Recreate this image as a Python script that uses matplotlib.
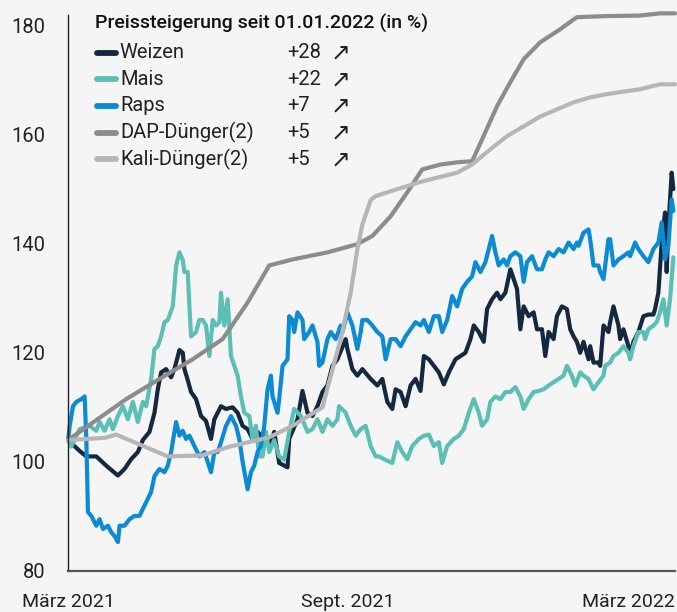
import matplotlib
matplotlib.use("Agg")
import matplotlib.pyplot as plt

plt.rcParams['font.family'] = ['Roboto', 'DejaVu Sans']

# Tage seit Anfang März 2021 und Indexwerte (Start = ca. 104)
weizen_tage = [0, 7, 11, 17, 23, 30, 34, 38, 42, 45, 49, 52, 54, 56, 59, 62, 64, 67, 69, 70,
               72, 74, 77, 80, 83, 86, 88, 92, 95, 99, 102, 105, 108, 111, 114, 118, 122, 124,
               127, 132, 133, 138, 141, 144, 147, 150, 153, 156, 159, 162, 167, 168, 171, 174,
               177, 182, 186, 189, 192, 195, 197, 200, 203, 206, 209, 212, 214, 217, 220, 223,
               226, 229, 233, 236, 239, 242, 244, 247, 250, 252, 255, 258, 260, 263, 266, 268,
               270, 272, 274, 277, 280, 282, 285, 287, 289, 292, 294, 297, 300, 302, 304, 306,
               308, 310, 313, 314, 316, 319, 320, 322, 325, 326, 328, 331, 332, 334, 337, 338,
               340, 343, 346, 349, 352, 353, 355, 357, 359, 360, 361, 363, 364]
weizen_werte = [104.0, 102.0, 101.0, 101.0, 99.3, 97.5, 98.7, 100.5, 101.8, 104.0, 105.5, 109.0,
                113.3, 116.4, 117.0, 115.5, 117.0, 120.5, 120.0, 117.0, 115.0, 112.8, 111.5,
                108.4, 107.5, 104.2, 107.8, 110.2, 109.7, 110.0, 109.0, 106.6, 106.0, 104.2,
                105.5, 104.0, 103.6, 105.5, 99.8, 99.0, 104.2, 107.8, 113.0, 109.0, 108.4, 110.2,
                112.8, 114.0, 117.6, 118.8, 122.5, 120.7, 117.0, 115.8, 117.0, 115.2, 114.0,
                115.2, 111.0, 109.7, 113.3, 112.8, 110.2, 114.0, 115.2, 113.0, 119.4, 118.8,
                117.6, 116.4, 114.2, 116.4, 118.8, 119.4, 120.0, 122.5, 125.0, 123.8, 122.0,
                128.0, 129.8, 131.0, 129.8, 131.0, 135.3, 133.5, 131.7, 124.3, 128.5, 126.7,
                127.4, 124.3, 124.3, 119.4, 123.8, 122.5, 126.7, 128.5, 128.0, 124.3, 123.0,
                122.0, 120.0, 122.0, 118.8, 121.2, 118.2, 118.2, 117.6, 125.0, 123.8, 125.6,
                128.5, 125.0, 122.5, 124.3, 121.2, 119.4, 122.0, 123.8, 126.7, 127.0, 127.0,
                128.0, 131.0, 140.2, 145.7, 134.8, 143.0, 153.0, 150.0]

mais_tage = [0, 2, 7, 13, 17, 19, 22, 25, 27, 30, 33, 36, 39, 42, 45, 47, 50, 52, 54, 56, 58,
             60, 63, 65, 67, 69, 70, 72, 73, 74, 77, 79, 81, 83, 85, 87, 89, 91, 92, 94, 96, 98,
             100, 102, 104, 106, 109, 111, 113, 115, 117, 119, 121, 124, 127, 130, 133, 136,
             140, 144, 147, 150, 153, 156, 159, 162, 163, 167, 170, 173, 176, 179, 182, 185,
             187, 190, 195, 198, 201, 204, 207, 211, 214, 217, 220, 223, 225, 228, 232, 235,
             238, 241, 244, 247, 249, 252, 254, 257, 260, 263, 266, 269, 272, 274, 277, 280,
             283, 286, 289, 292, 295, 298, 300, 303, 305, 308, 310, 313, 316, 319, 322, 323,
             326, 328, 331, 334, 337, 338, 340, 343, 346, 347, 349, 352, 354, 356, 358, 360,
             362, 364]
mais_werte = [104.0, 102.8, 106.0, 106.6, 105.7, 107.3, 105.7, 107.8, 106.0, 108.4, 110.2,
              107.8, 111.0, 107.3, 111.0, 110.2, 115.2, 120.7, 121.2, 123.0, 125.6, 126.0,
              128.5, 135.9, 138.4, 137.0, 134.8, 134.8, 128.5, 123.0, 123.8, 126.0, 126.0,
              125.0, 119.4, 126.0, 125.0, 125.6, 131.0, 125.0, 129.8, 119.4, 117.6, 115.8,
              112.0, 109.0, 108.4, 104.2, 106.6, 101.0, 101.0, 105.5, 101.8, 104.0, 101.0,
              100.4, 105.5, 109.7, 108.4, 105.5, 106.0, 107.8, 105.5, 107.8, 106.6, 107.8,
              110.2, 109.0, 106.6, 104.8, 106.0, 106.6, 102.9, 101.0, 101.0, 100.5, 99.8,
              103.6, 101.8, 100.5, 102.9, 104.2, 104.8, 105.0, 102.9, 103.6, 99.8, 102.9,
              104.2, 104.8, 106.0, 109.0, 111.5, 109.0, 106.6, 107.8, 111.0, 112.0, 111.5,
              112.8, 112.8, 113.7, 112.0, 109.7, 111.5, 112.8, 113.0, 113.3, 114.0, 114.6,
              115.2, 115.8, 117.6, 115.8, 114.0, 116.4, 115.8, 115.2, 113.3, 114.6, 115.8,
              117.6, 118.2, 119.4, 120.0, 121.2, 120.0, 118.8, 121.2, 123.8, 123.8, 122.5,
              124.3, 125.0, 125.6, 127.4, 129.8, 125.0, 129.8, 137.5]

raps_tage = [0, 1, 3, 5, 8, 10, 11, 12, 14, 17, 19, 21, 24, 26, 28, 30, 31, 34, 37, 40, 43,
             45, 47, 50, 52, 55, 58, 60, 62, 65, 67, 69, 71, 73, 76, 79, 82, 84, 86, 88, 90,
             92, 95, 98, 101, 103, 105, 108, 110, 112, 114, 116, 118, 120, 122, 123, 126, 127,
             129, 132, 133, 135, 136, 138, 141, 142, 145, 147, 150, 151, 153, 156, 158, 161,
             164, 165, 168, 171, 174, 176, 177, 180, 183, 186, 189, 191, 194, 197, 200, 203,
             206, 209, 212, 214, 217, 220, 223, 225, 228, 231, 234, 237, 240, 243, 245, 246,
             248, 251, 253, 255, 257, 259, 262, 264, 266, 269, 272, 274, 276, 279, 282, 285,
             287, 289, 292, 295, 298, 301, 304, 306, 307, 310, 313, 314, 316, 319, 320, 322,
             325, 326, 328, 331, 334, 337, 338, 341, 343, 346, 349, 352, 355, 357, 359, 361,
             363, 364]
raps_werte = [104.0, 106.6, 110.2, 111.0, 111.5, 112.0, 104.2, 90.8, 90.1, 88.3, 89.5, 87.7,
              88.3, 87.1, 86.4, 85.3, 88.3, 88.3, 89.5, 90.1, 90.1, 91.4, 92.6, 94.5, 97.4,
              98.7, 98.1, 99.3, 101.8, 107.3, 104.8, 105.7, 104.2, 104.8, 102.9, 101.0, 101.8,
              100.0, 98.1, 101.8, 101.8, 103.6, 106.6, 108.4, 106.6, 104.2, 100.0, 95.0, 98.1,
              99.3, 101.8, 102.9, 106.6, 113.3, 115.8, 112.0, 109.0, 111.5, 117.6, 118.8,
              126.7, 126.0, 123.8, 127.4, 126.0, 122.5, 123.8, 125.0, 122.0, 117.6, 118.2,
              122.5, 123.8, 122.5, 125.0, 123.8, 127.4, 125.0, 120.7, 123.8, 126.0, 126.0,
              125.0, 123.8, 123.0, 118.8, 122.5, 122.5, 121.2, 123.0, 124.3, 125.6, 125.0,
              126.0, 123.8, 126.7, 126.7, 123.8, 126.0, 130.4, 128.5, 131.7, 133.0, 134.0,
              136.6, 136.0, 134.8, 136.6, 139.0, 141.4, 138.4, 136.0, 137.1, 136.0, 137.7,
              138.4, 137.7, 133.0, 136.6, 137.7, 135.3, 135.3, 137.1, 138.4, 137.7, 139.0,
              138.4, 140.2, 139.0, 140.2, 139.6, 142.0, 142.6, 140.8, 136.0, 136.0, 134.8,
              133.5, 140.8, 140.8, 136.0, 137.1, 137.7, 138.4, 137.7, 140.2, 139.0, 137.7,
              136.6, 139.0, 140.2, 143.9, 137.1, 139.6, 148.1, 146.0]

dap_tage = [0, 35, 55, 75, 93, 108, 121, 135, 156, 174, 183, 194, 204, 213, 224, 234, 243,
            249, 258, 266, 274, 284, 296, 306, 324, 344, 356, 365]
dap_werte = [104.0, 111.5, 115.2, 118.8, 122.5, 129.2, 136.0, 137.1, 138.4, 139.9, 141.4,
             145.0, 149.4, 153.6, 154.5, 154.9, 155.1, 159.1, 165.2, 169.6, 173.8, 176.9,
             179.3, 181.5, 181.7, 181.8, 182.2, 182.2]

kali_tage = [0, 22, 29, 60, 81, 96, 121, 135, 153, 158, 164, 170, 174, 177, 182, 185, 194,
             213, 234, 243, 254, 264, 274, 284, 294, 304, 314, 324, 344, 356, 365]
kali_werte = [104.0, 104.4, 105.0, 101.0, 101.2, 102.7, 104.5, 106.6, 110.0, 115.8, 122.5,
              131.0, 139.0, 143.5, 148.0, 148.7, 149.6, 151.4, 153.0, 154.5, 157.3, 159.7,
              161.5, 163.3, 164.6, 165.9, 166.8, 167.4, 168.3, 169.2, 169.2]

namen = ['Weizen', 'Mais', 'Raps', 'DAP-Dünger(2)', 'Kali-Dünger(2)']
veraenderung = ['+28', '+22', '+7', '+5', '+5']
farben = ['#14283f', '#5bbfb5', '#0a8bd3', '#8c8c8c', '#b6b6b6']

x_labels = ['März 2021', 'Sept. 2021', 'März 2022']
x_label_tage = [0, 168, 365]
y_ticks = [80, 100, 120, 140, 160, 180]

bg = '#f5f5f5'
fig = plt.figure(figsize=(6.77, 6.12), dpi=100, facecolor=bg)
ax = fig.add_axes([68 / 677, 41 / 612, 607 / 677, 556 / 612], facecolor=bg)

serien = [(weizen_tage, weizen_werte), (mais_tage, mais_werte), (raps_tage, raps_werte),
          (dap_tage, dap_werte), (kali_tage, kali_werte)]
for (tage, werte), farbe in zip(serien, farben):
    ax.plot(tage, werte, color=farbe, lw=3.0, solid_joinstyle='round',
            solid_capstyle='round', clip_on=False)

ax.set_xlim(0, 365)
ax.set_ylim(80, 181.9)
ax.set_yticks(y_ticks)
ax.set_yticklabels([str(v) for v in y_ticks])
ax.tick_params(axis='y', length=0, pad=16, labelsize=14.5, labelcolor='#222222')
ax.set_xticks([])
for s in ['top', 'right']:
    ax.spines[s].set_visible(False)
ax.spines['left'].set_color('#222222')
ax.spines['left'].set_linewidth(1.0)
ax.spines['bottom'].set_color('#555555')
ax.spines['bottom'].set_linewidth(1.6)

# x-Beschriftung
for lab, tag in zip(x_labels, x_label_tage):
    ha = 'right' if tag == 365 else 'center'
    ax.annotate(lab, xy=(tag, 0), xycoords=('data', 'axes fraction'),
                xytext=(0, -22), textcoords='offset points', ha=ha, va='center',
                fontsize=14, color='#222222', annotation_clip=False)

# Legende von Hand
ax.text(0.0445, 0.984, 'Preissteigerung seit 01.01.2022 (in %)', transform=ax.transAxes,
        ha='left', va='center', fontsize=14, fontweight='medium', color='#111111')
y0 = 0.932
dy = 0.0478
for i, (name, wert, farbe) in enumerate(zip(namen, veraenderung, farben)):
    y = y0 - i * dy
    ax.plot([0.048, 0.079], [y, y], transform=ax.transAxes, color=farbe, lw=4.2,
            solid_capstyle='round', clip_on=False)
    ax.text(0.0855, y, name, transform=ax.transAxes, ha='left', va='center',
            fontsize=14.5, color='#222222')
    ax.text(0.3608, y, wert, transform=ax.transAxes, ha='left', va='center',
            fontsize=14.5, color='#222222')
    ax.text(0.433, y, '↗', transform=ax.transAxes, ha='left', va='center',
            fontsize=17, color='#222222', family=['DejaVu Sans'])

fig.savefig('out.png', dpi=100, facecolor=bg)
